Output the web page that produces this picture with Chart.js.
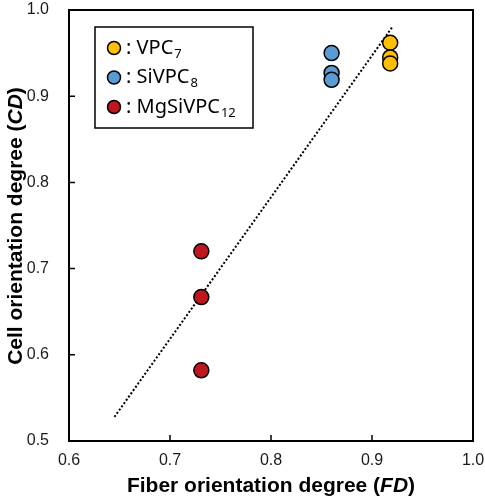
<!DOCTYPE html>
<html>
<head>
<meta charset="utf-8">
<script src="https://cdn.jsdelivr.net/npm/chart.js@4"></script>
<style>
  html, body { margin: 0; padding: 0; background: #fff; }
  #wrap { width: 485px; height: 500px; }
</style>
</head>
<body>
<div id="wrap"><canvas id="chart" width="485" height="500"></canvas></div>
<script>
// series values (FD, CD)
const vpcX = [0.918, 0.918, 0.918];
const vpcY = [0.962, 0.945, 0.938];
const sivpcX = [0.860, 0.860, 0.860];
const sivpcY = [0.950, 0.927, 0.919];
const mgX = [0.731, 0.731, 0.731];
const mgY = [0.720, 0.667, 0.582];
// dotted trend line ends
const trendX = [0.645, 0.920];
const trendY = [0.528, 0.980];

const xTicks = [0.6, 0.7, 0.8, 0.9, 1.0];
const yTicks = [0.5, 0.6, 0.7, 0.8, 0.9, 1.0];

const legendItems = [
    { color: "#FFC000", text: ": VPC", sub: "7" },
    { color: "#5B9BD5", text: ": SiVPC", sub: "8" },
    { color: "#C0171E", text: ": MgSiVPC", sub: "12" }
];

const toPts = (xs, ys) => xs.map((x, i) => ({ x: x, y: ys[i] }));

// frame, inward ticks, axis titles and the legend box
const decor = {
    id: "decor",
    afterDatasetsDraw(chart) {
        const { ctx, chartArea: a, scales } = chart;
        ctx.save();
        ctx.strokeStyle = "#000";
        ctx.lineWidth = 2;
        ctx.strokeRect(a.left, a.top, a.right - a.left, a.bottom - a.top);

        ctx.lineWidth = 1.5;
        ctx.beginPath();
        xTicks.slice(1, -1).forEach(v => {
            const px = scales.x.getPixelForValue(v);
            ctx.moveTo(px, a.bottom);
            ctx.lineTo(px, a.bottom - 6);
        });
        yTicks.slice(1, -1).forEach(v => {
            const py = scales.y.getPixelForValue(v);
            ctx.moveTo(a.left, py);
            ctx.lineTo(a.left + 6, py);
        });
        ctx.stroke();

        // legend
        const lx = 95, ly = 27, lw = 158, lh = 101;
        ctx.fillStyle = "#fff";
        ctx.fillRect(lx, ly, lw, lh);
        ctx.lineWidth = 1.5;
        ctx.strokeRect(lx, ly, lw, lh);
        legendItems.forEach((it, i) => {
            const cy = 48 + i * 29.5;
            ctx.beginPath();
            ctx.arc(114, cy, 6.5, 0, Math.PI * 2);
            ctx.fillStyle = it.color;
            ctx.fill();
            ctx.lineWidth = 1.5;
            ctx.strokeStyle = "#000";
            ctx.stroke();
            ctx.fillStyle = "#000";
            ctx.textBaseline = "middle";
            ctx.textAlign = "left";
            ctx.font = "20px 'Noto Sans'";
            ctx.fillText(it.text, 126, cy);
            const w = ctx.measureText(it.text).width;
            ctx.font = "13px 'Noto Sans'";
            ctx.fillText(it.sub, 126 + w + 1, cy + 6);
        });

        // axis titles with italic parts
        const drawTitle = (parts, cx, cy) => {
            const fonts = parts.map(p => (p.i ? "italic " : "") + "bold 21px 'Liberation Sans'");
            let total = 0;
            parts.forEach((p, k) => { ctx.font = fonts[k]; total += ctx.measureText(p.t).width; });
            let x = cx - total / 2;
            ctx.textAlign = "left";
            ctx.textBaseline = "middle";
            ctx.fillStyle = "#000";
            parts.forEach((p, k) => {
                ctx.font = fonts[k];
                ctx.fillText(p.t, x, cy);
                x += ctx.measureText(p.t).width;
            });
        };
        drawTitle([{ t: "Fiber orientation degree (" }, { t: "FD", i: true }, { t: ")" }], 271, 486);
        ctx.translate(16, 226);
        ctx.rotate(-Math.PI / 2);
        drawTitle([{ t: "Cell orientation degree (" }, { t: "CD", i: true }, { t: ")" }], 0, 0);
        ctx.restore();
    }
};

const pointStyle = color => ({
    backgroundColor: color,
    borderColor: "#000",
    borderWidth: 1.5,
    pointRadius: 7.5,
    showLine: false
});

new Chart(document.getElementById("chart"), {
    type: "scatter",
    data: {
        datasets: [
            Object.assign({ label: "VPC7", data: toPts(vpcX, vpcY) }, pointStyle(legendItems[0].color)),
            Object.assign({ label: "SiVPC8", data: toPts(sivpcX, sivpcY) }, pointStyle(legendItems[1].color)),
            Object.assign({ label: "MgSiVPC12", data: toPts(mgX, mgY) }, pointStyle(legendItems[2].color)),
            // trend line sits behind the markers
            { label: "trend", data: toPts(trendX, trendY), showLine: true, order: 10,
                borderColor: "#000", borderWidth: 2, borderDash: [2, 2], pointRadius: 0, type: "line" }
        ]
    },
    options: {
        responsive: false,
        animation: false,
        layout: { padding: { top: 10, right: 12, left: 0, bottom: 0 } },
        plugins: { legend: { display: false }, tooltip: { enabled: false } },
        scales: {
            x: {
                type: "linear", min: 0.6, max: 1.0,
                afterBuildTicks: s => { s.ticks = xTicks.map(v => ({ value: v })); },
                afterFit: s => { s.height = 59; s.paddingLeft = 0; s.paddingRight = 0; },
                grid: { display: false, drawTicks: false },
                border: { display: false },
                ticks: { padding: 10, color: "#1a1a1a", font: { family: "Liberation Sans", size: 16 },
                    callback: v => v.toFixed(1) }
            },
            y: {
                type: "linear", min: 0.5, max: 1.0,
                afterBuildTicks: s => { s.ticks = yTicks.map(v => ({ value: v })); },
                afterFit: s => { s.width = 69; s.paddingTop = 0; s.paddingBottom = 0; },
                grid: { display: false, drawTicks: false },
                border: { display: false },
                ticks: { padding: 20, color: "#1a1a1a", font: { family: "Liberation Sans", size: 16 },
                    callback: v => v.toFixed(1) }
            }
        }
    },
    plugins: [decor]
});
</script>
</body>
</html>
